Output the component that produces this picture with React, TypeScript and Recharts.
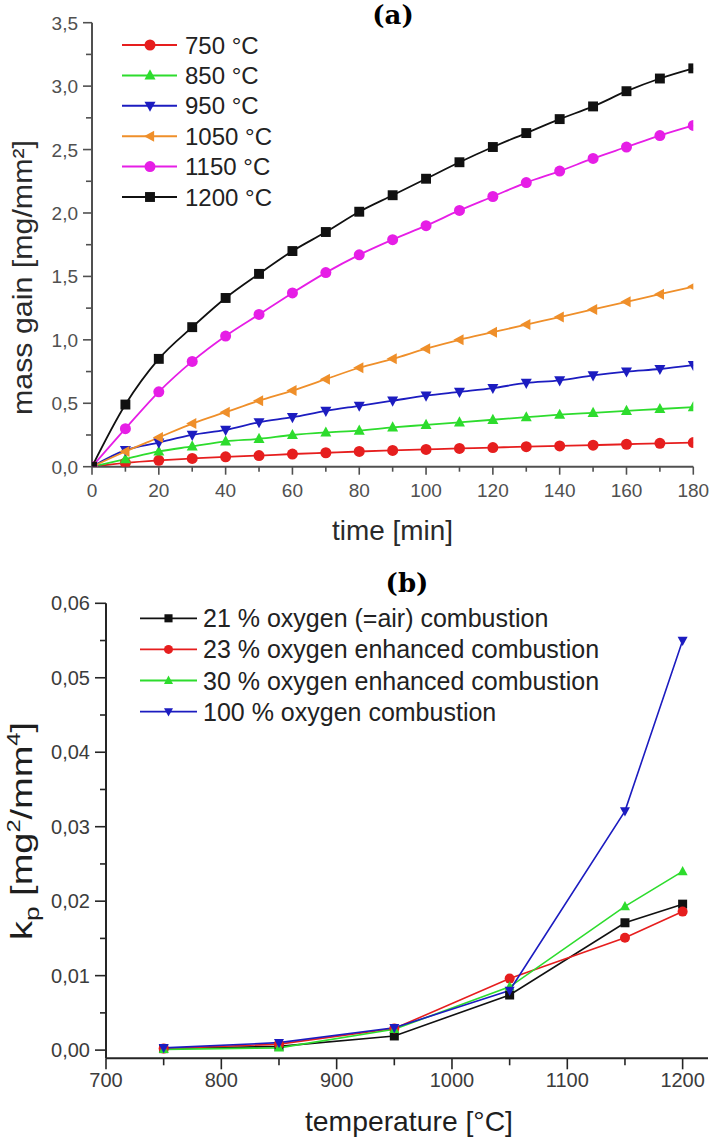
import React from 'react';
import { LineChart, Line, XAxis, YAxis } from 'recharts';

const FONT = '"Liberation Sans", Arial, Helvetica, sans-serif';
const SERIF = '"DejaVu Serif", "Liberation Serif", serif';

// ---------- (a) mass gain vs time ----------
const timeMin = [0, 10, 20, 30, 40, 50, 60, 70, 80, 90, 100, 110, 120, 130, 140, 150, 160, 170, 180];
const gain750 = [0, 0.03, 0.05, 0.065, 0.078, 0.088, 0.1, 0.11, 0.12, 0.128, 0.136, 0.144, 0.151, 0.158, 0.164, 0.17, 0.177, 0.184, 0.19];
const gain850 = [0, 0.06, 0.12, 0.16, 0.2, 0.22, 0.25, 0.27, 0.285, 0.31, 0.33, 0.35, 0.37, 0.39, 0.41, 0.425, 0.44, 0.455, 0.47];
const gain950 = [0, 0.13, 0.19, 0.25, 0.29, 0.35, 0.39, 0.44, 0.48, 0.52, 0.56, 0.59, 0.62, 0.66, 0.68, 0.72, 0.75, 0.77, 0.8];
const gain1050 = [0, 0.12, 0.23, 0.34, 0.43, 0.52, 0.6, 0.69, 0.78, 0.85, 0.93, 1.0, 1.06, 1.12, 1.18, 1.24, 1.3, 1.36, 1.42];
const gain1150 = [0, 0.3, 0.59, 0.83, 1.03, 1.2, 1.37, 1.53, 1.67, 1.79, 1.9, 2.02, 2.13, 2.24, 2.33, 2.43, 2.52, 2.61, 2.69];
const gain1200 = [0, 0.49, 0.85, 1.1, 1.33, 1.52, 1.7, 1.85, 2.01, 2.14, 2.27, 2.4, 2.52, 2.63, 2.74, 2.84, 2.96, 3.06, 3.14];
const labelsA = ['750 °C', '850 °C', '950 °C', '1050 °C', '1150 °C', '1200 °C'];
const xTicksA = [0, 10, 20, 30, 40, 50, 60, 70, 80, 90, 100, 110, 120, 130, 140, 150, 160, 170, 180];
const yTicksA = [0, 0.25, 0.5, 0.75, 1, 1.25, 1.5, 1.75, 2, 2.25, 2.5, 2.75, 3, 3.25, 3.5];

// ---------- (b) kp vs temperature ----------
const temperatureC = [750, 850, 950, 1050, 1150, 1200];
const kp21 = [0.0002, 0.0005, 0.0019, 0.0074, 0.0171, 0.0196];
const kp23 = [0.0002, 0.0008, 0.0029, 0.0096, 0.0151, 0.0186];
const kp30 = [0.0001, 0.0003, 0.0028, 0.0085, 0.0193, 0.024];
const kp100 = [0.0003, 0.001, 0.003, 0.008, 0.0321, 0.055];
const labelsB = [
  '21 % oxygen (=air) combustion',
  '23 % oxygen enhanced combustion',
  '30 % oxygen enhanced combustion',
  '100 % oxygen combustion',
];
const xTicksB = [700, 750, 800, 850, 900, 950, 1000, 1050, 1100, 1150, 1200];
const yTicksB = [0, 0.005, 0.01, 0.015, 0.02, 0.025, 0.03, 0.035, 0.04, 0.045, 0.05, 0.055, 0.06];

// ---------- styles ----------
const RED = '#e61e1e';
const GREEN = '#2ddc2d';
const BLUE = '#1c1cc0';
const ORANGE = '#ef8f2a';
const MAGENTA = '#e61ee6';
const BLACK = '#111111';

const seriesA = [
  { key: 's750', label: labelsA[0], values: gain750, color: RED, shape: 'circle' },
  { key: 's850', label: labelsA[1], values: gain850, color: GREEN, shape: 'up' },
  { key: 's950', label: labelsA[2], values: gain950, color: BLUE, shape: 'down' },
  { key: 's1050', label: labelsA[3], values: gain1050, color: ORANGE, shape: 'left' },
  { key: 's1150', label: labelsA[4], values: gain1150, color: MAGENTA, shape: 'circle' },
  { key: 's1200', label: labelsA[5], values: gain1200, color: BLACK, shape: 'square' },
];

const seriesB = [
  { key: 'o21', label: labelsB[0], values: kp21, color: BLACK, shape: 'square' },
  { key: 'o23', label: labelsB[1], values: kp23, color: RED, shape: 'circle' },
  { key: 'o30', label: labelsB[2], values: kp30, color: GREEN, shape: 'up' },
  { key: 'o100', label: labelsB[3], values: kp100, color: BLUE, shape: 'down' },
];

const dataA = timeMin.map((t, i) => {
  const row: any = { t };
  seriesA.forEach((s) => (row[s.key] = s.values[i]));
  return row;
});

const dataB = temperatureC.map((T, i) => {
  const row: any = { T };
  seriesB.forEach((s) => (row[s.key] = s.values[i]));
  return row;
});

function Marker({ shape, cx, cy, size, color }: any) {
  const r = size / 2;
  if (shape === 'circle') return <circle cx={cx} cy={cy} r={r} fill={color} />;
  if (shape === 'square') return <rect x={cx - r * 0.9} y={cy - r * 0.9} width={r * 1.8} height={r * 1.8} fill={color} />;
  let pts = '';
  if (shape === 'up') pts = `${cx},${cy - r * 1.1} ${cx + r},${cy + r * 0.75} ${cx - r},${cy + r * 0.75}`;
  if (shape === 'down') pts = `${cx},${cy + r * 1.1} ${cx + r},${cy - r * 0.75} ${cx - r},${cy - r * 0.75}`;
  if (shape === 'left') pts = `${cx - r * 1.1},${cy} ${cx + r * 0.75},${cy - r} ${cx + r * 0.75},${cy + r}`;
  return <polygon points={pts} fill={color} />;
}

const makeDot = (shape: string, color: string, size: number) => (p: any) => {
  if (p.cx == null || p.cy == null) return <g key={`e-${p.index}`} />;
  return (
    <g key={`d-${p.index}`}>
      <Marker shape={shape} cx={p.cx} cy={p.cy} size={size} color={color} />
    </g>
  );
};

const isMajor = (v: number, step: number) => Math.abs(v / step - Math.round(v / step)) < 1e-6;

// ---- tick renderers (tickSize=0, tickMargin=0 => x/y is on the axis line) ----
const AXIS_A = '#505050';
const AXIS_B = '#252525';
const TICK_A = '#505050';
const TICK_B = '#3c3c3c';

const YTickA = (p: any) => {
  const v = p.payload.value;
  const major = isMajor(v, 0.5);
  return (
    <g>
      <line x1={p.x} x2={p.x - (major ? 9 : 6)} y1={p.y} y2={p.y} stroke={AXIS_A} strokeWidth={1.6} />
      {major && (
        <text x={p.x - 14} y={p.y + 7} textAnchor="end" fontFamily={FONT} fontSize={19} fill={TICK_A}>
          {v.toFixed(1).replace('.', ',')}
        </text>
      )}
    </g>
  );
};

const XTickA = (p: any) => {
  const v = p.payload.value;
  const major = isMajor(v, 20);
  return (
    <g>
      <line x1={p.x} x2={p.x} y1={p.y} y2={p.y + (major ? 8 : 5)} stroke={AXIS_A} strokeWidth={1.6} />
      {major && (
        <text x={p.x} y={p.y + 30} textAnchor="middle" fontFamily={FONT} fontSize={19} fill={TICK_A}>
          {String(v)}
        </text>
      )}
    </g>
  );
};

const YTickB = (p: any) => {
  const v = p.payload.value;
  const major = isMajor(v, 0.01);
  return (
    <g>
      <line x1={p.x} x2={p.x - (major ? 11 : 6)} y1={p.y} y2={p.y} stroke={AXIS_B} strokeWidth={1.6} />
      {major && (
        <text x={p.x - 16} y={p.y + 7} textAnchor="end" fontFamily={FONT} fontSize={20} fill={TICK_B}>
          {v.toFixed(2).replace('.', ',')}
        </text>
      )}
    </g>
  );
};

const XTickB = (p: any) => {
  const v = p.payload.value;
  const major = isMajor(v, 100);
  return (
    <g>
      <line x1={p.x} x2={p.x} y1={p.y} y2={p.y + (major ? 11 : 7)} stroke={AXIS_B} strokeWidth={1.6} />
      {major && (
        <text x={p.x} y={p.y + 29} textAnchor="middle" fontFamily={FONT} fontSize={20} fill={TICK_B}>
          {String(v)}
        </text>
      )}
    </g>
  );
};

export default function App() {
  return (
    <div style={{ position: 'absolute', left: 0, top: 0, width: 712, height: 1140, background: '#fff' }}>
      {/* (a) */}
      <div style={{ position: 'absolute', left: 0, top: 0 }}>
        <LineChart width={712} height={560} data={dataA} margin={{ top: 22.7, right: 18.7, left: 0, bottom: 0 }}>
          <XAxis
            type="number"
            dataKey="t"
            domain={[0, 180]}
            ticks={xTicksA}
            interval={0}
            height={93.3}
            tickSize={0}
            tickMargin={0}
            tickLine={false}
            axisLine={{ stroke: AXIS_A, strokeWidth: 2 }}
            tick={(p: any) => <XTickA {...p} />}
            allowDataOverflow
          />
          <YAxis
            type="number"
            domain={[0, 3.5]}
            ticks={yTicksA}
            interval={0}
            width={92}
            tickSize={0}
            tickMargin={0}
            tickLine={false}
            axisLine={{ stroke: AXIS_A, strokeWidth: 2 }}
            tick={(p: any) => <YTickA {...p} />}
            allowDataOverflow
          />
          {seriesA.map((s) => (
            <Line
              key={s.key}
              dataKey={s.key}
              type="monotone"
              stroke={s.color}
              strokeWidth={1.8}
              dot={makeDot(s.shape, s.color, 11)}
              activeDot={false}
              isAnimationActive={false}
            />
          ))}
        </LineChart>
      </div>

      {/* (b) */}
      <div style={{ position: 'absolute', left: 0, top: 560 }}>
        <LineChart width={712} height={580} data={dataB} margin={{ top: 43.3, right: 4, left: 0, bottom: 0 }}>
          <XAxis
            type="number"
            dataKey="T"
            domain={[700, 1222]}
            ticks={xTicksB}
            interval={0}
            height={81.7}
            tickSize={0}
            tickMargin={0}
            tickLine={false}
            axisLine={{ stroke: AXIS_B, strokeWidth: 2 }}
            tick={(p: any) => <XTickB {...p} />}
            allowDataOverflow
          />
          <YAxis
            type="number"
            domain={[-0.0011, 0.06]}
            ticks={yTicksB}
            interval={0}
            width={106}
            tickSize={0}
            tickMargin={0}
            tickLine={false}
            axisLine={{ stroke: AXIS_B, strokeWidth: 2 }}
            tick={(p: any) => <YTickB {...p} />}
            allowDataOverflow
          />
          {seriesB.map((s) => (
            <Line
              key={s.key}
              dataKey={s.key}
              type="linear"
              stroke={s.color}
              strokeWidth={1.6}
              dot={makeDot(s.shape, s.color, 10)}
              activeDot={false}
              isAnimationActive={false}
            />
          ))}
        </LineChart>
      </div>

      {/* titles, axis titles, legends */}
      <svg
        width={712}
        height={1140}
        style={{ position: 'absolute', left: 0, top: 0, pointerEvents: 'none' }}
      >
        <text x={393} y={24} textAnchor="middle" fontFamily={SERIF} fontWeight="bold" fontSize={26} fill="#000">
          (a)
        </text>
        <text x={407} y={592} textAnchor="middle" fontFamily={SERIF} fontWeight="bold" fontSize={26} fill="#000">
          (b)
        </text>

        <text
          x={392.5}
          y={540}
          textAnchor="middle"
          fontFamily={FONT}
          fontSize={28}
          fill="#2a2a2a"
          textLength={121}
          lengthAdjust="spacingAndGlyphs"
        >
          time [min]
        </text>
        <text
          x={409}
          y={1131}
          textAnchor="middle"
          fontFamily={FONT}
          fontSize={28}
          fill="#1e1e1e"
          textLength={208}
          lengthAdjust="spacingAndGlyphs"
        >
          temperature [°C]
        </text>

        <g transform="translate(31.5,277.5) rotate(-90)">
          <text
            x={0}
            y={0}
            textAnchor="middle"
            fontFamily={FONT}
            fontSize={28}
            fill="#2a2a2a"
            textLength={275}
            lengthAdjust="spacingAndGlyphs"
          >
            mass gain [mg/mm²]
          </text>
        </g>
        <g transform="translate(31.5,831) rotate(-90)">
          <text
            x={0}
            y={0}
            textAnchor="middle"
            fontFamily={FONT}
            fontSize={29}
            fill="#1e1e1e"
            textLength={218}
            lengthAdjust="spacingAndGlyphs"
          >
            <tspan>k</tspan>
            <tspan fontSize={20} dy={7}>p</tspan>
            <tspan dy={-7}> [mg</tspan>
            <tspan fontSize={18} dy={-12}>2</tspan>
            <tspan dy={12}>/mm</tspan>
            <tspan fontSize={18} dy={-12}>4</tspan>
            <tspan dy={12}>]</tspan>
          </text>
        </g>

        {/* legend (a) */}
        {seriesA.map((s, i) => {
          const cy = 45 + i * 30.4;
          return (
            <g key={`la-${s.key}`}>
              <line x1={122} x2={177} y1={cy} y2={cy} stroke={s.color} strokeWidth={2} />
              <Marker shape={s.shape} cx={150} cy={cy} size={11} color={s.color} />
              <text x={185} y={cy + 8.6} fontFamily={FONT} fontSize={24} fill="#222">
                {s.label}
              </text>
            </g>
          );
        })}

        {/* legend (b) */}
        {seriesB.map((s, i) => {
          const cy = 618.3 + i * 31.1;
          return (
            <g key={`lb-${s.key}`}>
              <line x1={140} x2={197} y1={cy} y2={cy} stroke={s.color} strokeWidth={1.8} />
              <Marker shape={s.shape} cx={168.5} cy={cy} size={9} color={s.color} />
              <text x={203} y={cy + 9} fontFamily={FONT} fontSize={25} fill="#222">
                {s.label}
              </text>
            </g>
          );
        })}
      </svg>
    </div>
  );
}
